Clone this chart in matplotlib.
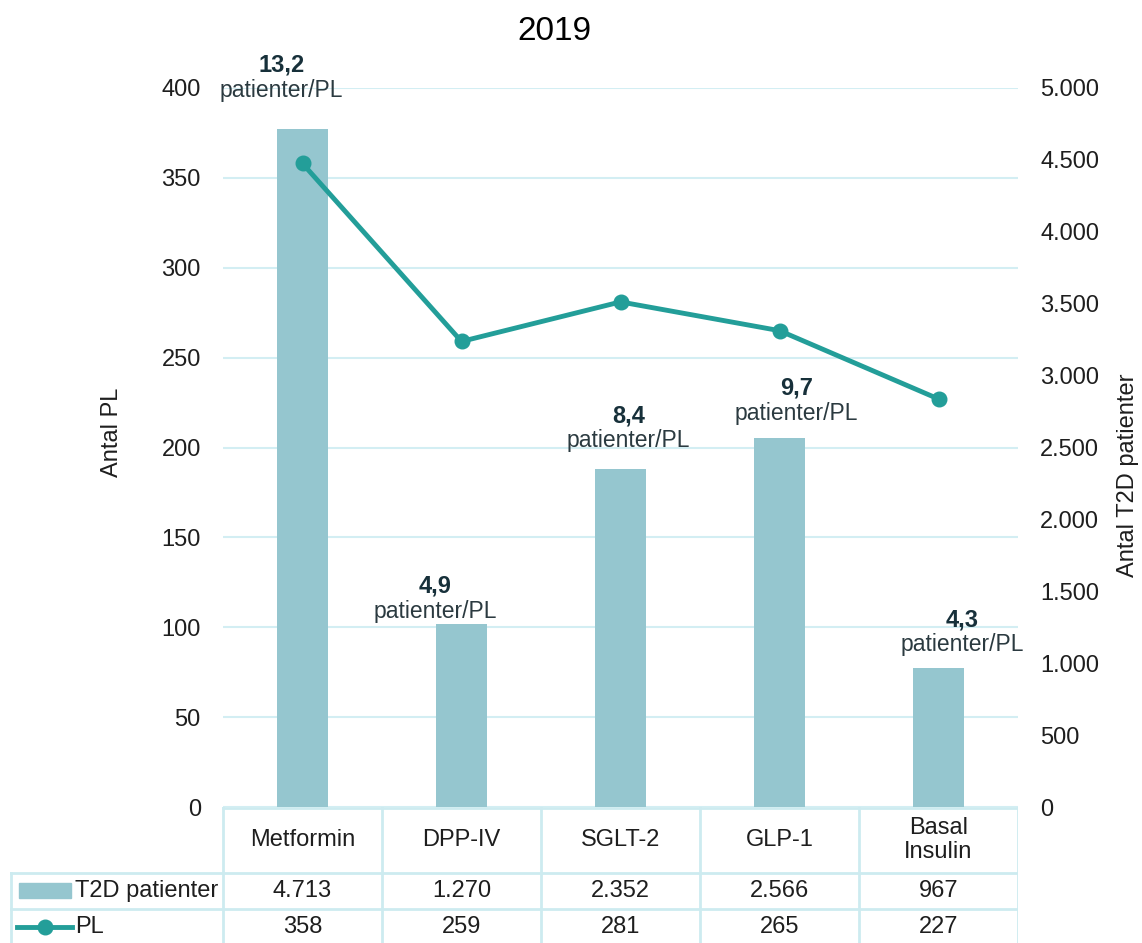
import matplotlib.pyplot as plt
from matplotlib.patches import Rectangle
from matplotlib.lines import Line2D

plt.rcParams["font.family"] = ["Liberation Sans", "DejaVu Sans"]

# Data
categories = ["Metformin", "DPP-IV", "SGLT-2", "GLP-1", "Basal\nInsulin"]
t2d_patienter = [4713, 1270, 2352, 2566, 967]
pl = [358, 259, 281, 265, 227]
left_ticks = [0, 50, 100, 150, 200, 250, 300, 350, 400]
right_ticks = [0, 500, 1000, 1500, 2000, 2500, 3000, 3500, 4000, 4500, 5000]

# label offsets in pixels (dx, dy above bar top) for the "patienter/PL" text
label_offsets = [(-21, 39), (-26, 13), (8, 28), (17, 25), (24, 23)]

bar_color = "#95C6CF"
line_color = "#239E99"
grid_color = "#D3EEF3"
table_color = "#CDEBF0"
text_color = "#1E1E1E"


def fmt_thousand(v):
    return f"{v:,}".replace(",", ".")


W, H = 1142, 943
fig = plt.figure(figsize=(W / 100, H / 100), dpi=100)

x0, x1, ytop, ybot = 223, 1018, 88, 807
ax = fig.add_axes([x0 / W, 1 - ybot / H, (x1 - x0) / W, (ybot - ytop) / H])
ax2 = ax.twinx()

xs = list(range(len(categories)))
ax2.bar(xs, t2d_patienter, width=0.32, color=bar_color, zorder=2)
ax.plot(xs, pl, "-o", color=line_color, lw=3.5, markersize=10.5, zorder=5)

ax.set_zorder(ax2.get_zorder() + 1)
ax.patch.set_visible(False)

ax.set_xlim(-0.5, len(categories) - 0.5)
ax.set_ylim(0, 400)
ax2.set_ylim(0, 5000)
ax.set_yticks(left_ticks)
ax2.set_yticks(right_ticks)
ax2.set_yticklabels([fmt_thousand(v) for v in right_ticks])
ax.set_xticks([])
for a in (ax, ax2):
    for s in a.spines.values():
        s.set_visible(False)
    a.tick_params(axis="y", length=0, pad=16, labelsize=17, labelcolor=text_color)

# gridlines follow the left axis, drawn behind the bars
for t in left_ticks:
    ax2.axhline(t * 5000 / 400, color=grid_color, lw=1.5, zorder=1)

fig.text(112 / W, 1 - 432 / H, "Antal PL", rotation=90, ha="center", va="center",
         fontsize=17, color=text_color)
fig.text(1128 / W, 1 - 475 / H, "Antal T2D patienter", rotation=90, ha="center",
         va="center", fontsize=17, color=text_color)

# ratio labels
for i, (p, n) in enumerate(zip(t2d_patienter, pl)):
    dx, dy = label_offsets[i]
    ratio = f"{p / n:.1f}".replace(".", ",")
    ax2.annotate("patienter/PL", (i, p), xytext=(dx, dy), textcoords="offset pixels",
                 ha="center", va="center", fontsize=16.5, color="#2B3A40", zorder=6)
    ax2.annotate(ratio, (i, p), xytext=(dx, dy + 25), textcoords="offset pixels",
                 ha="center", va="center", fontsize=17, color="#17303A",
                 fontweight="bold", zorder=6)

fig.text(554 / W, 1 - 32 / H, "2019", ha="center", va="center", fontsize=24,
         color="black")

# data table
tx0 = 10
tax = fig.add_axes([tx0 / W, 0, (x1 - tx0) / W, (H - ybot) / H])
tax.set_xlim(-0.5 - (x0 - tx0) / ((x1 - x0) / len(categories)), len(categories) - 0.5)
tax.set_ylim(H, ybot)
tax.axis("off")
lx = tax.get_xlim()[0]
row_t2d, row_pl = 873, 909
lw = 2
tax.plot([-0.5, len(categories) - 0.5], [ybot + 1, ybot + 1], color=table_color, lw=lw)
tax.plot([lx, len(categories) - 0.5], [row_t2d, row_t2d], color=table_color, lw=lw)
tax.plot([lx, len(categories) - 0.5], [row_pl, row_pl], color=table_color, lw=lw)
for k in range(len(categories) + 1):
    tax.plot([k - 0.5, k - 0.5], [ybot, H], color=table_color, lw=lw)
tax.plot([lx + 0.005, lx + 0.005], [row_t2d, H], color=table_color, lw=lw)

for i, c in enumerate(categories):
    tax.text(i, 840, c, ha="center", va="center", fontsize=17, color=text_color,
             linespacing=1.15)
    tax.text(i, 891, fmt_thousand(t2d_patienter[i]), ha="center", va="center",
             fontsize=17, color=text_color)
    tax.text(i, 927, str(pl[i]), ha="center", va="center", fontsize=17,
             color=text_color)

px = lambda p: lx + (p - tx0) / ((x1 - x0) / len(categories))
tax.add_patch(Rectangle((px(19), 883), px(71) - px(19), 15, color=bar_color))
tax.add_line(Line2D([px(17), px(72)], [927, 927], color=line_color, lw=3.5))
tax.plot([px(45)], [927], "o", color=line_color, markersize=10.5)
tax.text(px(75), 891, "T2D patienter", ha="left", va="center", fontsize=17,
         color=text_color)
tax.text(px(75), 927, "PL", ha="left", va="center", fontsize=17, color=text_color)

fig.savefig("out.png", dpi=100)
